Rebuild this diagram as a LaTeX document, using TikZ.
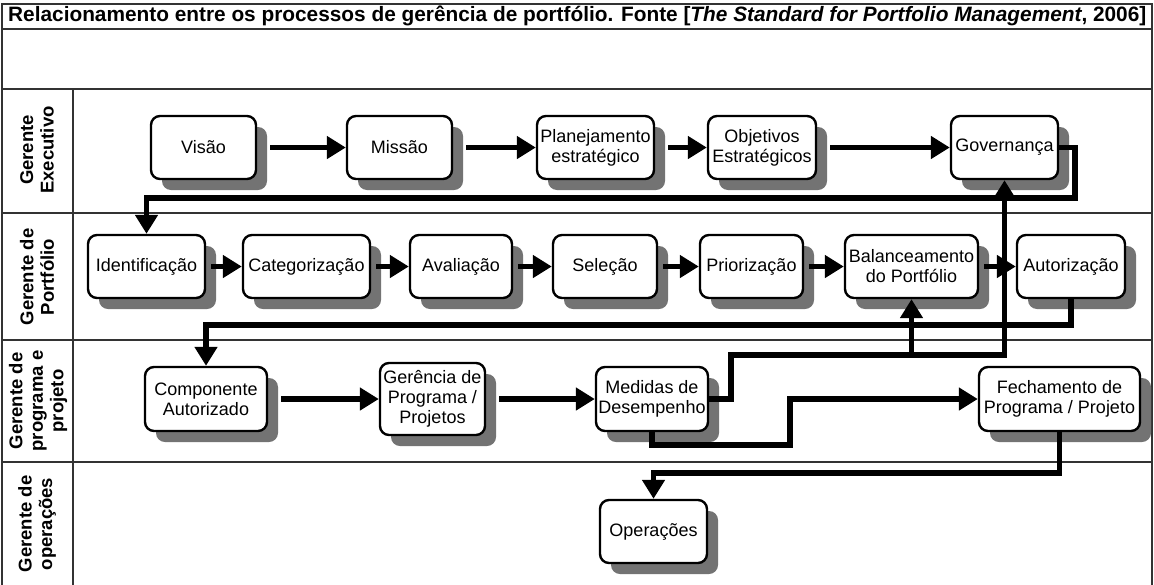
\documentclass[tikz,border=0pt]{standalone}
\usepackage{fontspec}
\setmainfont{Liberation Sans}
\usetikzlibrary{arrows.meta}

% box with a drop shadow: name, x1, y1, x2, y2, text
\newcommand{\procbox}[6]{%
  \fill[boxshadow] ({#2+11},{#3+11}) rectangle ({#4+11},{#5+11});
  \node[proc, minimum width={(#4-#2)*1pt}, minimum height={(#5-#3)*1pt}]
    (#1) at ({(#2+#4)/2},{(#3+#5)/2}) {#6};
}

\begin{document}
\begin{tikzpicture}[x=1pt, y=-1pt,
  frame/.style={draw=black!80, line width=1.3pt},
  boxshadow/.style={fill=black!55, rounded corners=9pt},
  proc/.style={draw=black, line width=2.4pt, rounded corners=9pt, fill=white,
    align=center, inner sep=0pt, font=\fontsize{18}{20}\selectfont},
  lanelabel/.style={rotate=90, align=center, font=\bfseries\fontsize{18.5}{20.5}\selectfont},
  arr/.style={draw=black, line width=5.5pt, -{Triangle[length=19pt, width=22pt]}}]

\useasboundingbox (0,0) rectangle (1154,584);

% table frame
\draw[frame] (2,590) -- (2,4) -- (1152,4) -- (1152,590);
\draw[frame] (2,29) -- (1152,29);
\draw[frame] (2,89) -- (1152,89);
\draw[frame] (2,213) -- (1152,213);
\draw[frame] (2,340) -- (1152,340);
\draw[frame] (2,462) -- (1152,462);
\draw[frame] (73,89) -- (73,590);

\node[anchor=west, inner sep=0pt] (title) at (8,16)
  {\resizebox{1138pt}{!}{\bfseries Relacionamento entre os processos de ger\^encia de portf\'olio. Fonte [\textit{The Standard for Portfolio Management}, 2006]}};

% lane labels
\node[lanelabel] (l1) at (37,150) {Gerente\\Executivo};
\node[lanelabel] (l2) at (37,277) {Gerente de\\Portfólio};
\node[lanelabel] (l3) at (38,401) {Gerente de\\programa e\\projeto};
\node[lanelabel] (l4) at (37,524) {Gerente de\\operações};

% executive lane
\procbox{vis}{151}{116}{256}{179}{Visão}
\procbox{mis}{347}{116}{452}{179}{Missão}
\procbox{pla}{537}{116}{654}{179}{Planejamento\\estratégico}
\procbox{obj}{708}{116}{816}{179}{Objetivos\\Estratégicos}
\procbox{gov}{951}{116}{1058}{179}{Governança}

% portfolio lane
\procbox{ide}{88}{235}{205}{298}{Identificação}
\procbox{cat}{243}{235}{370}{298}{Categorização}
\procbox{ava}{410}{235}{512}{298}{Avaliação}
\procbox{sel}{553}{235}{657}{298}{Seleção}
\procbox{pri}{700}{235}{803}{298}{Priorização}
\procbox{bal}{845}{235}{978}{298}{Balanceamento\\do Portfólio}
\procbox{aut}{1017}{235}{1125}{298}{Autorização}

% program / project lane
\procbox{com}{145}{367}{267}{431}{Componente\\Autorizado}
\procbox{ger}{380}{363}{485}{435}{Gerência de\\Programa /\\Projetos}
\procbox{med}{596}{367}{708}{431}{Medidas de\\Desempenho}
\procbox{fec}{979}{367}{1140}{431}{Fechamento de\\Programa / Projeto}

% operations lane
\procbox{ope}{600}{500}{707}{563}{Operações}

% routing rows
\coordinate (r1) at (1075,198);
\coordinate (r2) at (0,325);
\coordinate (m1) at (731,355);
\coordinate (m2) at (790,445);
\coordinate (r4) at (0,473);

% flow inside the lanes
\draw[arr, shorten <=13pt] (vis.east) -- (mis.west);
\draw[arr, shorten <=13pt] (mis.east) -- (pla.west);
\draw[arr, shorten <=13pt] (pla.east) -- (obj.west);
\draw[arr, shorten <=13pt] (obj.east) -- (gov.west);

\draw[arr, shorten <=5pt] (ide.east) -- (cat.west);
\draw[arr, shorten <=5pt] (cat.east) -- (ava.west);
\draw[arr, shorten <=5pt] (ava.east) -- (sel.west);
\draw[arr, shorten <=5pt] (sel.east) -- (pri.west);
\draw[arr, shorten <=5pt] (pri.east) -- (bal.west);
\draw[arr, shorten <=5pt] (bal.east) -- (aut.west);

\draw[arr, shorten <=13pt] (com.east) -- (com.east -| ger.west);
\draw[arr, shorten <=13pt] (ger.east) -- (ger.east -| med.west);

% flow between the lanes
\draw[arr] (gov.east) -| (r1) -| (ide.north);
\draw[arr] (aut.south) |- (com.north |- r2) -- (com.north);
\draw[arr] (med.east) -| (m1) -| (gov.south);
\draw[arr] (bal.south |- m1) -- (bal.south);
\draw[arr] (med.south) |- (m2) |- (fec.west);
\draw[arr] (fec.south) |- (ope.north |- r4) -- (ope.north);
\end{tikzpicture}
\end{document}
